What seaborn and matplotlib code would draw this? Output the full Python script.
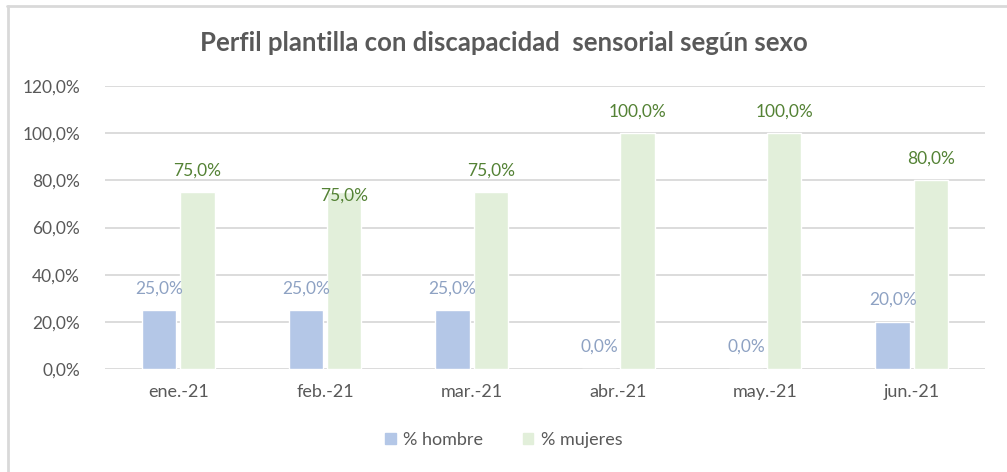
import pandas as pd
import matplotlib
matplotlib.use("Agg")
import matplotlib.pyplot as plt
import seaborn as sns
from matplotlib.lines import Line2D

# datos
meses = ['ene.-21', 'feb.-21', 'mar.-21', 'abr.-21', 'may.-21', 'jun.-21']
hombre = [25.0, 25.0, 25.0, 0.0, 0.0, 20.0]
mujeres = [75.0, 75.0, 75.0, 100.0, 100.0, 80.0]
series = ['% hombre', '% mujeres']

df = pd.DataFrame({'Mes': meses * 2,
                   'Serie': [series[0]] * len(meses) + [series[1]] * len(meses),
                   'Valor': hombre + mujeres})

sns.set_style('white')
plt.rcParams['font.family'] = ['Lato', 'DejaVu Sans']

gris = '#595959'
colores = {'% hombre': '#B4C7E7', '% mujeres': '#E2EFDA'}
col_etiq = {'% hombre': '#8EA2C3', '% mujeres': '#548235'}

fig = plt.figure(figsize=(10.07, 4.72), dpi=100)
ax = fig.add_axes([105 / 1007, (472 - 369) / 472, 880 / 1007, (369 - 86) / 472])

sns.barplot(data=df, x='Mes', y='Valor', hue='Serie', palette=colores,
            width=0.52, gap=0.1, ax=ax, legend=False, saturation=1)

ax.set_ylim(0, 120)
ax.set_xlim(-0.5, len(meses) - 0.5)
ax.set_yticks(range(0, 121, 20))
ax.set_yticklabels([f'{v:.1f}%'.replace('.', ',') for v in range(0, 121, 20)])
ax.yaxis.grid(True, color='#D9D9D9', linewidth=1.3)
ax.set_axisbelow(True)
for s in ax.spines.values():
    s.set_visible(False)
ax.tick_params(axis='both', length=0, colors=gris)
ax.tick_params(axis='y', pad=18, labelsize=12.5)
ax.tick_params(axis='x', pad=11, labelsize=13)
ax.set_xlabel('')
ax.set_ylabel('')

# etiquetas de datos
for cont, serie in zip(ax.containers, series):
    txts = ax.bar_label(cont, labels=[f'{v.get_height():.1f}%'.replace('.', ',') for v in cont],
                        padding=10, color=col_etiq[serie], fontsize=12.5)
    if serie == '% mujeres':
        # la etiqueta de febrero esta desplazada sobre la barra
        txts[1].xyann = (0, -8)

fig.suptitle('Perfil plantilla con discapacidad  sensorial según sexo',
             x=0.5, y=0.935, fontsize=18.5, fontweight='bold', color=gris)

handles = [plt.Rectangle((0, 0), 1, 1, color=colores[s]) for s in series]
fig.legend(handles, series, loc='center', bbox_to_anchor=(0.5, 1 - 440 / 472),
           ncol=2, frameon=False, fontsize=13, labelcolor=gris,
           handlelength=0.6, handleheight=0.6, columnspacing=2.2, handletextpad=0.4)

# borde del area del grafico
fig.add_artist(Line2D([7 / 1007, 1], [1 - 5.5 / 472, 1 - 5.5 / 472], color='#D9D9D9', linewidth=2))
fig.add_artist(Line2D([7.5 / 1007, 7.5 / 1007], [0, 1 - 5.5 / 472], color='#D9D9D9', linewidth=2))

fig.savefig('out.png', dpi=100, facecolor='white')
